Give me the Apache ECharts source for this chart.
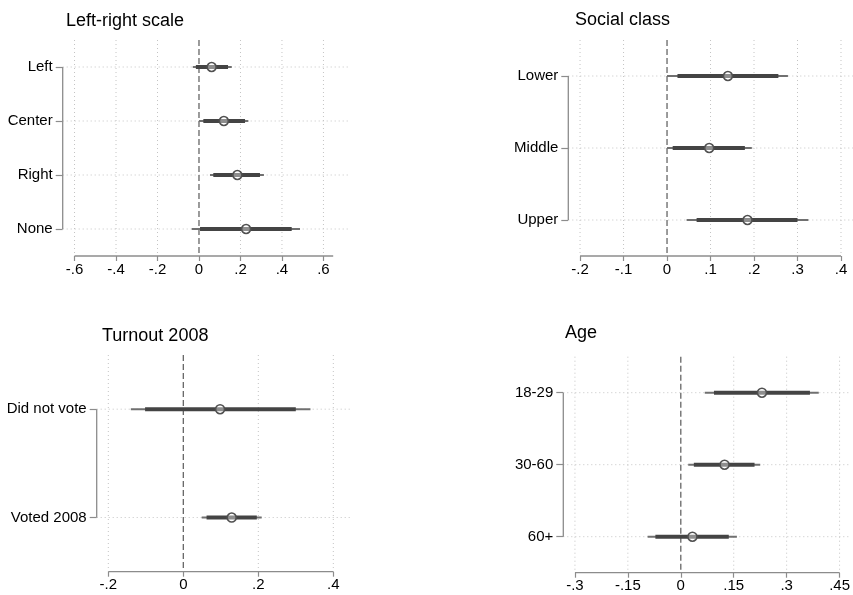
<!DOCTYPE html>
<html><head><meta charset="utf-8">
<script src="https://cdn.jsdelivr.net/npm/echarts@6/dist/echarts.min.js"></script>
<style>html,body{margin:0;padding:0;background:#fff}#c{width:853px;height:595px}</style>
</head><body><div id="c"></div>
<script>
// ---- Panel 1: Left-right scale ----
const lrCats = ['Left', 'Center', 'Right', 'None'];
const lrPoint = [0.061, 0.120, 0.185, 0.227];
const lrLo95 = [-0.030, 0.000, 0.053, -0.035];
const lrHi95 = [0.158, 0.238, 0.313, 0.487];
const lrLo90 = [-0.015, 0.021, 0.069, 0.005];
const lrHi90 = [0.140, 0.222, 0.294, 0.447];
const lrTicks = [-0.6, -0.4, -0.2, 0, 0.2, 0.4, 0.6];
const lrTickLabels = ['-.6', '-.4', '-.2', '0', '.2', '.4', '.6'];

// ---- Panel 2: Social class ----
const scCats = ['Lower', 'Middle', 'Upper'];
const scPoint = [0.140, 0.097, 0.185];
const scLo95 = [0.000, 0.000, 0.045];
const scHi95 = [0.278, 0.195, 0.325];
const scLo90 = [0.024, 0.013, 0.068];
const scHi90 = [0.256, 0.179, 0.300];
const scTicks = [-0.2, -0.1, 0, 0.1, 0.2, 0.3, 0.4];
const scTickLabels = ['-.2', '-.1', '0', '.1', '.2', '.3', '.4'];

// ---- Panel 3: Turnout 2008 ----
const toCats = ['Did not vote', 'Voted 2008'];
const toPoint = [0.098, 0.129];
const toLo95 = [-0.140, 0.049];
const toHi95 = [0.339, 0.209];
const toLo90 = [-0.102, 0.062];
const toHi90 = [0.300, 0.196];
const toTicks = [-0.2, 0, 0.2, 0.4];
const toTickLabels = ['-.2', '0', '.2', '.4'];

// ---- Panel 4: Age ----
const agCats = ['18-29', '30-60', '60+'];
const agPoint = [0.230, 0.124, 0.033];
const agLo95 = [0.068, 0.021, -0.094];
const agHi95 = [0.391, 0.225, 0.159];
const agLo90 = [0.094, 0.037, -0.072];
const agHi90 = [0.366, 0.209, 0.136];
const agTicks = [-0.3, -0.15, 0, 0.15, 0.3, 0.45];
const agTickLabels = ['-.3', '-.15', '0', '.15', '.3', '.45'];

const FONT = "'Liberation Sans', Arial, Helvetica, sans-serif";
const AXIS_COLOR = '#8c8c8c';
const GRID_COLOR = '#c4c4c4';

const panels = [
  { title: 'Left-right scale', cats: lrCats, pt: lrPoint, lo95: lrLo95, hi95: lrHi95, lo90: lrLo90, hi90: lrHi90,
    ticks: lrTicks, labels: lrTickLabels, axisEnd: 0.647,
    layout: { left: 62.7, top: 40, width: 287.3, height: 216, xmin: -0.657, xmax: 0.728, tLeft: 66, tTop: 12.5 } },
  { title: 'Social class', cats: scCats, pt: scPoint, lo95: scLo95, hi95: scHi95, lo90: scLo90, hi90: scHi90,
    ticks: scTicks, labels: scTickLabels, axisEnd: 0.4,
    layout: { left: 568.3, top: 40, width: 284.7, height: 216, xmin: -0.227, xmax: 0.4276, tLeft: 575, tTop: 11 } },
  { title: 'Turnout 2008', cats: toCats, pt: toPoint, lo95: toLo95, hi95: toHi95, lo90: toLo90, hi90: toHi90,
    ticks: toTicks, labels: toTickLabels, axisEnd: 0.4,
    layout: { left: 96.7, top: 355, width: 253.3, height: 216.7, xmin: -0.231, xmax: 0.4445, tLeft: 102, tTop: 327 } },
  { title: 'Age', cats: agCats, pt: agPoint, lo95: agLo95, hi95: agHi95, lo90: agLo90, hi90: agHi90,
    ticks: agTicks, labels: agTickLabels, axisEnd: 0.45,
    layout: { left: 563.3, top: 356.7, width: 289.7, height: 216, xmin: -0.333, xmax: 0.482, tLeft: 565, tTop: 324 } }
];

const option = { animation: false, backgroundColor: '#fff', title: [], grid: [], xAxis: [], yAxis: [], series: [] };

panels.forEach((p, i) => {
  const L = p.layout;
  option.title.push({ text: p.title, left: L.tLeft, top: L.tTop, padding: 0,
    textStyle: { fontFamily: FONT, fontSize: 18, fontWeight: 'normal', color: '#000' } });
  option.grid.push({ left: L.left, top: L.top, width: L.width, height: L.height, containLabel: false });
  option.xAxis.push({
    type: 'value', gridIndex: i, min: L.xmin, max: L.xmax,
    axisLine: { show: false, onZero: false },
    axisTick: { show: true, customValues: p.ticks, length: 5, lineStyle: { color: AXIS_COLOR, width: 1.2 } },
    axisLabel: { customValues: p.ticks, margin: 6, fontFamily: FONT, fontSize: 15, color: '#000',
      formatter: v => { const k = p.ticks.findIndex(t => Math.abs(t - v) < 1e-9); return k >= 0 ? p.labels[k] : ''; } },
    splitLine: { show: false }
  });
  option.yAxis.push({
    type: 'category', gridIndex: i, data: p.cats, inverse: true, boundaryGap: true,
    axisLine: { show: false, onZero: false },
    axisTick: { show: true, alignWithLabel: true, length: 7, lineStyle: { color: AXIS_COLOR, width: 1.2 } },
    axisLabel: { margin: 10, fontFamily: FONT, fontSize: 15, color: '#000' },
    splitLine: { show: false }
  });

  // frame: gridlines, zero line and partial axis lines, positioned via the axes' scales
  option.series.push({
    type: 'custom', xAxisIndex: i, yAxisIndex: i, silent: true, z: 1,
    data: [[0, 0]],
    renderItem: (params, api) => {
      const cs = params.coordSys;
      const bottom = cs.y + cs.height;
      const children = [];
      p.ticks.forEach(t => {
        if (Math.abs(t) < 1e-9) return;
        const x = api.coord([t, 0])[0];
        children.push({ type: 'line', shape: { x1: x, y1: cs.y, x2: x, y2: bottom },
          style: { stroke: GRID_COLOR, lineWidth: 1, lineDash: [1, 3] } });
      });
      p.cats.forEach((c, k) => {
        const y = api.coord([0, k])[1];
        children.push({ type: 'line', shape: { x1: cs.x, y1: y, x2: cs.x + cs.width, y2: y },
          style: { stroke: GRID_COLOR, lineWidth: 1, lineDash: [1, 3] } });
      });
      const x0 = api.coord([0, 0])[0];
      children.push({ type: 'line', shape: { x1: x0, y1: cs.y, x2: x0, y2: bottom },
        style: { stroke: '#666', lineWidth: 1.3, lineDash: [6, 3] } });
      const xa = api.coord([p.ticks[0], 0])[0];
      const xb = api.coord([p.axisEnd, 0])[0];
      children.push({ type: 'line', shape: { x1: xa, y1: bottom, x2: xb, y2: bottom },
        style: { stroke: AXIS_COLOR, lineWidth: 1.3 } });
      const ya = api.coord([0, 0])[1];
      const yb = api.coord([0, p.cats.length - 1])[1];
      children.push({ type: 'line', shape: { x1: cs.x, y1: ya, x2: cs.x, y2: yb },
        style: { stroke: AXIS_COLOR, lineWidth: 1.3 } });
      return { type: 'group', children };
    }
  });

  // confidence intervals
  option.series.push({
    type: 'custom', xAxisIndex: i, yAxisIndex: i, z: 3,
    data: p.cats.map((c, k) => [p.lo95[k], k, p.hi95[k], p.lo90[k], p.hi90[k]]),
    renderItem: (params, api) => {
      const k = api.value(1);
      const a = api.coord([api.value(0), k]);
      const b = api.coord([api.value(2), k]);
      const c = api.coord([api.value(3), k]);
      const d = api.coord([api.value(4), k]);
      return { type: 'group', children: [
        { type: 'line', shape: { x1: a[0], y1: a[1], x2: b[0], y2: b[1] }, style: { stroke: '#707070', lineWidth: 2 } },
        { type: 'line', shape: { x1: c[0], y1: c[1], x2: d[0], y2: d[1] }, style: { stroke: '#444', lineWidth: 4 } }
      ] };
    }
  });

  // point estimates
  option.series.push({
    type: 'scatter', xAxisIndex: i, yAxisIndex: i, z: 4,
    data: p.pt.map((v, k) => [v, k]),
    symbol: 'circle', symbolSize: 9,
    itemStyle: { color: 'rgba(255,255,255,0.4)', borderColor: '#505050', borderWidth: 1.6, opacity: 1 }
  });
});

const chart = echarts.init(document.getElementById('c'), null, { renderer: 'canvas' });
chart.setOption(option);
</script></body></html>
